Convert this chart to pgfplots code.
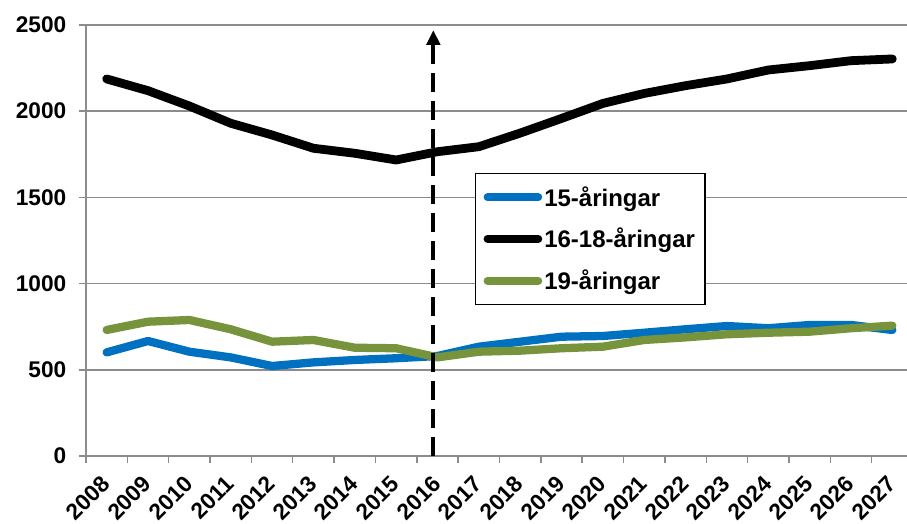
\documentclass[border=0pt]{standalone}
\usepackage{fontspec}
\setmainfont{Liberation Sans}
\usepackage{pgfplots}
\pgfplotsset{compat=1.18}
\usetikzlibrary{arrows.meta}

\definecolor{blue15}{HTML}{0070C0}
\definecolor{green19}{HTML}{77933C}
\definecolor{gridgray}{HTML}{8C8C8C}

\begin{document}
\begin{tikzpicture}
\begin{axis}[
    scale only axis,
    width=615.75pt, height=323.25pt,
    xmin=-0.5, xmax=19.355,
    ymin=0, ymax=2500,
    axis lines*=left,
    axis line style={draw=gridgray, line width=1.1pt},
    tick style={draw=gridgray, line width=1.1pt},
    tick align=outside,
    major tick length=5.25pt,
    xtick={-0.5,0.5,...,18.5},
    xticklabels={2008,2009,2010,2011,2012,2013,2014,2015,2016,2017,
                 2018,2019,2020,2021,2022,2023,2024,2025,2026,2027},
    ytick={0,500,...,2500},
    ymajorgrids=true,
    grid style={draw=gridgray, line width=1.1pt},
    /pgf/number format/assume math mode=true,
    /pgf/number format/1000 sep={},
    tick label style={font=\bfseries\fontsize{17}{20}\selectfont},
    yticklabel style={xshift=-6pt},
    xticklabel style={xshift=15pt, yshift=-12.5pt, rotate=45, anchor=east, inner sep=0pt},
    legend cell align=left,
    legend image code/.code={\draw[#1, line width=6pt, line cap=round] (0pt,0pt) -- (38pt,0pt);},
    legend style={at={(0.4738,0.6566)}, anchor=north west, draw=black, line width=0.9pt,
        font=\bfseries\fontsize{18}{21}\selectfont, row sep=12pt,
        inner xsep=6pt, inner ysep=8pt, nodes={inner sep=1.5pt}},
]
\addplot[blue15, line width=6.2pt, line join=round, line cap=round] coordinates {
(0,601)(1,667)(2,605)(3,572)(4,522)(5,543)(6,557)(7,567)(8,580)(9,634)
(10,663)(11,692)(12,696)(13,715)(14,735)(15,754)(16,741)(17,760)(18,760)(19,731)};
\addlegendentry{15-åringar}
\addplot[black, line width=6.6pt, line join=round, line cap=round] coordinates {
(0,2187)(1,2119)(2,2030)(3,1930)(4,1862)(5,1785)(6,1756)(7,1717)(8,1765)(9,1794)
(10,1873)(11,1958)(12,2045)(13,2103)(14,2148)(15,2187)(16,2239)(17,2264)(18,2293)(19,2303)};
\addlegendentry{16-18-åringar}
\addplot[green19, line width=6.2pt, line join=round, line cap=round] coordinates {
(0,731)(1,779)(2,789)(3,735)(4,663)(5,673)(6,628)(7,625)(8,572)(9,605)
(10,611)(11,625)(12,634)(13,673)(14,688)(15,706)(16,715)(17,721)(18,741)(19,756)};
\addlegendentry{19-åringar}
\addplot[forget plot, black, line width=2.8pt, dash pattern=on 14pt off 7pt,
    -{Triangle[width=10pt,length=11pt]}] coordinates {(7.9,0)(7.9,2470)};
\end{axis}
\pgfresetboundingbox
\path[use as bounding box] (-64.5pt,-51pt) rectangle (615.75pt,342pt);
\end{tikzpicture}
\end{document}
